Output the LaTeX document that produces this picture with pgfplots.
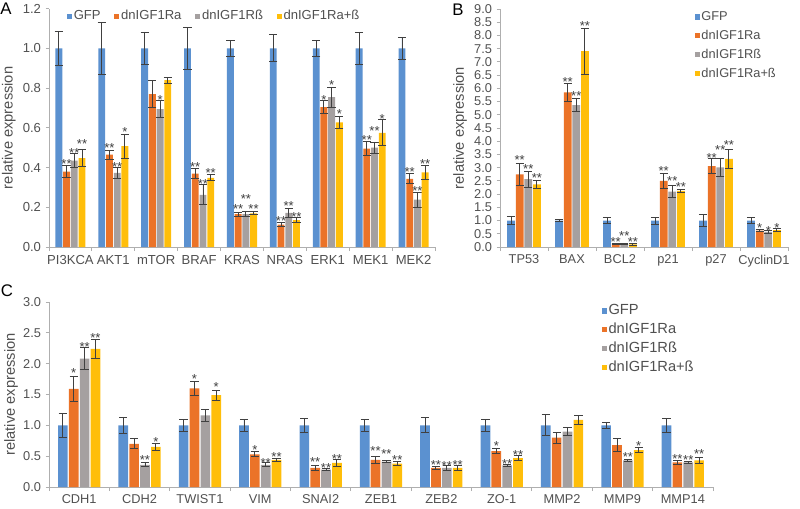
\documentclass[border=0pt]{standalone}
\usepackage{pgfplots}
\pgfplotsset{compat=1.18}
\usepackage{pgfplotstable}
\usepackage{fontspec}
\setmainfont{Liberation Sans}

\definecolor{cG}{RGB}{91,145,208}
\definecolor{cR}{RGB}{235,115,40}
\definecolor{cB}{RGB}{165,160,160}
\definecolor{cY}{RGB}{255,190,10}
\definecolor{axgray}{RGB}{175,175,175}
\definecolor{txtgray}{RGB}{80,80,80}
\definecolor{errc}{RGB}{64,64,64}

% cat, value and error of GFP (g), dnIGF1Ra (r), dnIGF1Rss (b), dnIGF1Ra+ss (y)
\pgfplotstableread{
cat g ge r re b be y ye
0 1.0 0.088 0.380 0.030 0.435 0.035 0.448 0.042
1 1.0 0.130 0.465 0.022 0.373 0.030 0.508 0.060
2 1.0 0.083 0.770 0.068 0.695 0.045 0.840 0.015
3 1.0 0.105 0.370 0.027 0.263 0.050 0.348 0.015
4 1.0 0.038 0.165 0.010 0.165 0.012 0.170 0.008
5 1.0 0.068 0.113 0.010 0.172 0.022 0.135 0.012
6 1.0 0.038 0.705 0.032 0.755 0.050 0.628 0.030
7 1.0 0.080 0.495 0.035 0.500 0.027 0.575 0.065
8 1.0 0.055 0.343 0.025 0.238 0.038 0.376 0.037
}\Adata
\pgfplotstableread{
cat s y lab
0 2 0.435 **
0 3 0.490 **
0 4 0.535 **
1 2 0.515 **
1 3 0.420 **
1 4 0.595 *
2 3 0.758 *
3 2 0.420 **
3 3 0.335 **
3 4 0.390 **
4 2 0.210 **
4 3 0.260 **
4 4 0.210 **
5 2 0.148 **
5 3 0.222 **
5 4 0.165 **
6 2 0.758 *
6 3 0.833 *
6 4 0.687 *
7 2 0.555 **
7 3 0.600 **
7 4 0.662 *
8 2 0.393 **
8 3 0.298 **
8 4 0.435 **
}\Astars

\pgfplotstableread{
cat g ge r re b be y ye
0 1.0 0.14 2.75 0.42 2.57 0.30 2.37 0.14
1 1.0 0.05 5.85 0.34 5.37 0.25 7.41 0.87
2 1.0 0.10 0.10 0.02 0.10 0.02 0.10 0.03
3 1.0 0.13 2.50 0.28 2.09 0.22 2.12 0.07
4 1.0 0.22 3.06 0.29 3.01 0.33 3.33 0.36
5 1.0 0.12 0.62 0.05 0.57 0.04 0.64 0.06
}\Bdata
\pgfplotstableread{
cat s y lab
0 2 3.42 **
0 3 3.06 **
0 4 2.72 **
1 2 6.35 **
1 3 5.85 **
1 4 8.46 **
2 2 0.30 **
2 3 0.54 **
2 4 0.30 **
3 2 2.98 **
3 3 2.60 **
3 4 2.38 **
4 2 3.50 **
4 3 3.79 **
4 4 3.98 **
5 2 0.83 *
5 3 0.74 *
5 4 0.84 *
}\Bstars

\pgfplotstableread{
cat g ge r re b be y ye
0 1.0 0.20 1.59 0.21 2.08 0.18 2.24 0.15
1 1.0 0.13 0.70 0.08 0.36 0.03 0.65 0.05
2 1.0 0.10 1.60 0.11 1.16 0.09 1.49 0.08
3 1.0 0.10 0.53 0.04 0.36 0.03 0.44 0.03
4 1.0 0.11 0.31 0.04 0.28 0.015 0.39 0.05
5 1.0 0.10 0.44 0.06 0.41 0.02 0.38 0.03
6 1.0 0.12 0.31 0.025 0.31 0.04 0.31 0.035
7 1.0 0.10 0.58 0.04 0.35 0.02 0.47 0.04
8 1.0 0.17 0.80 0.09 0.90 0.07 1.09 0.07
9 1.0 0.05 0.68 0.11 0.43 0.02 0.60 0.04
10 1.0 0.11 0.40 0.03 0.40 0.02 0.43 0.05
}\Cdata
\pgfplotstableread{
cat s y lab
0 2 1.906 *
0 3 2.330 **
0 4 2.470 **
1 3 0.487 **
1 4 0.785 *
2 2 1.810 *
2 4 1.670 *
3 2 0.650 *
3 3 0.444 **
3 4 0.540 **
4 2 0.450 **
4 3 0.363 **
4 4 0.500 **
5 2 0.633 **
5 3 0.585 **
5 4 0.487 **
6 2 0.406 **
6 3 0.395 **
6 4 0.406 **
7 2 0.720 *
7 3 0.417 **
7 4 0.568 **
9 3 0.541 **
9 4 0.720 *
10 2 0.514 **
10 3 0.487 **
10 4 0.585 **
}\Cstars

\pgfplotsset{
  panel/.style={
    scale only axis,
    axis lines=left,
    axis line style={-, draw=axgray, line width=0.7pt},
    tick align=outside,
    major tick length=2.5pt,
    minor tick length=3pt,
    ytick style={draw=axgray, line width=0.7pt},
    major x tick style={draw=none},
    minor x tick style={draw=axgray, line width=0.7pt},
    ymin=0,
    tick label style={text=txtgray},
    /pgf/number format/assume math mode=true,
    yticklabel style={/pgf/number format/.cd, fixed, fixed zerofill, precision=1},
    ylabel={relative expression},
    ylabel style={font=\fontsize{11}{13}\selectfont, text=txtgray, rotate=0, anchor=center},
    legend image code/.code={\path[#1] (0pt,-1.9pt) rectangle (3.8pt,1.9pt);},
    legend cell align=left,
    clip=false,
  },
  errs/.style={error bars/.cd, y dir=both, y explicit,
    error bar style={draw=errc, line width=0.7pt},
    error mark options={rotate=90, mark size=3.1pt, draw=errc, line width=0.7pt}},
  stars/.style={forget plot, only marks, mark=none, nodes near coords,
    point meta=explicit symbolic,
    nodes near coords style={font=\fontsize{9.8}{10}\selectfont, text=errc, anchor=center, yshift=-2.4pt, inner sep=0pt}},
}

\newcommand\bars[1]{%
  \addplot[forget plot, ybar, bar width=0.16, bar shift=0pt, fill=cG, draw=none, errs] table[x expr=\thisrow{cat}-0.27, y=g, y error=ge] {#1};
  \addplot[forget plot, ybar, bar width=0.16, bar shift=0pt, fill=cR, draw=none, errs] table[x expr=\thisrow{cat}-0.09, y=r, y error=re] {#1};
  \addplot[forget plot, ybar, bar width=0.16, bar shift=0pt, fill=cB, draw=none, errs] table[x expr=\thisrow{cat}+0.09, y=b, y error=be] {#1};
  \addplot[forget plot, ybar, bar width=0.16, bar shift=0pt, fill=cY, draw=none, errs] table[x expr=\thisrow{cat}+0.27, y=y, y error=ye] {#1};
}
\newcommand\starsplot[1]{%
  \addplot[stars] table[x expr=\thisrow{cat}+0.18*\thisrow{s}-0.45, y=y, meta=lab] {#1};
}
\newcommand\legendentries{%
  \addlegendimage{fill=cG, draw=none}\addlegendentry{GFP}
  \addlegendimage{fill=cR, draw=none}\addlegendentry{dnIGF1Ra}
  \addlegendimage{fill=cB, draw=none}\addlegendentry{dnIGF1Rß}
  \addlegendimage{fill=cY, draw=none}\addlegendentry{dnIGF1Ra+ß}
}

\begin{document}
\begin{tikzpicture}
\path[use as bounding box] (0pt,0pt) rectangle (600pt,-381pt);

% Panel A
\begin{axis}[panel,
  at={(36.75pt,-185.25pt)}, anchor=south west,
  width=289.5pt, height=178.7pt,
  xmin=-0.5, xmax=8.5, ymax=1.2,
  ytick={0,0.2,0.4,0.6,0.8,1.0,1.2},
  xtick={0,...,8},
  minor xtick={-0.5,0.5,1.5,2.5,3.5,4.5,5.5,6.5,7.5,8.5},
  xticklabels={PI3KCA,AKT1,mTOR,BRAF,KRAS,NRAS,ERK1,MEK1,MEK2},
  tick label style={font=\fontsize{9.8}{11}\selectfont},
  ylabel style={at={(axis description cs:-0.104,0.5)}},
  legend columns=4,
  legend style={at={(0.046,0.969)}, anchor=west, draw=none, fill=none,
    font=\fontsize{9.8}{11}\selectfont, text=txtgray, inner sep=0pt,
    nodes={inner sep=1.3pt},
    /tikz/every even column/.append style={column sep=9pt}},
]
\bars{\Adata}
\starsplot{\Astars}
\legendentries
\end{axis}

% Panel B
\begin{axis}[panel,
  at={(375pt,-185.25pt)}, anchor=south west,
  width=216pt, height=178.5pt,
  xmin=-0.5, xmax=5.5, ymax=9,
  ytick={0,0.5,1.0,1.5,2.0,2.5,3.0,3.5,4.0,4.5,5.0,5.5,6.0,6.5,7.0,7.5,8.0,8.5,9.0},
  xtick={0,...,5},
  minor xtick={-0.5,0.5,1.5,2.5,3.5,4.5,5.5},
  xticklabels={TP53,BAX,BCL2,p21,p27,CyclinD1},
  tick label style={font=\fontsize{9.6}{11}\selectfont},
  ylabel style={at={(axis description cs:-0.139,0.5)}},
  legend columns=1,
  legend style={at={(0.675,1.0)}, anchor=north west, draw=none, fill=none,
    font=\fontsize{9.6}{11}\selectfont, text=txtgray, inner sep=0pt,
    nodes={inner sep=1.3pt, text height=7pt, text depth=2pt}, row sep=2.6pt},
]
\bars{\Bdata}
\starsplot{\Bstars}
\legendentries
\end{axis}

% Panel C
\begin{axis}[panel,
  at={(36.75pt,-365.25pt)}, anchor=south west,
  width=498pt, height=138.75pt,
  xmin=-0.5, xmax=10.5, ymax=3,
  ytick={0,0.5,1.0,1.5,2.0,2.5,3.0},
  xtick={0,...,10},
  minor xtick={-0.5,0.5,1.5,2.5,3.5,4.5,5.5,6.5,7.5,8.5,9.5,10.5},
  xticklabels={CDH1,CDH2,TWIST1,VIM,SNAI2,ZEB1,ZEB2,ZO-1,MMP2,MMP9,MMP14},
  tick label style={font=\fontsize{9.6}{11}\selectfont},
  ylabel style={at={(axis description cs:-0.057,0.5)}},
  legend columns=1,
  legend style={at={(0.832,1.0)}, anchor=north west, draw=none, fill=none,
    font=\fontsize{11}{13}\selectfont, text=txtgray, inner sep=0pt,
    nodes={inner sep=1.3pt, text height=8pt, text depth=2.5pt}, row sep=1.0pt},
]
\bars{\Cdata}
\starsplot{\Cstars}
\legendentries
\end{axis}

\node[font=\fontsize{12.6}{14}\selectfont] at (4.5pt,-6.75pt) {A};
\node[font=\fontsize{12.6}{14}\selectfont] at (343.5pt,-7.1pt) {B};
\node[font=\fontsize{12.6}{14}\selectfont] at (5.25pt,-218.25pt) {C};
\end{tikzpicture}
\end{document}
